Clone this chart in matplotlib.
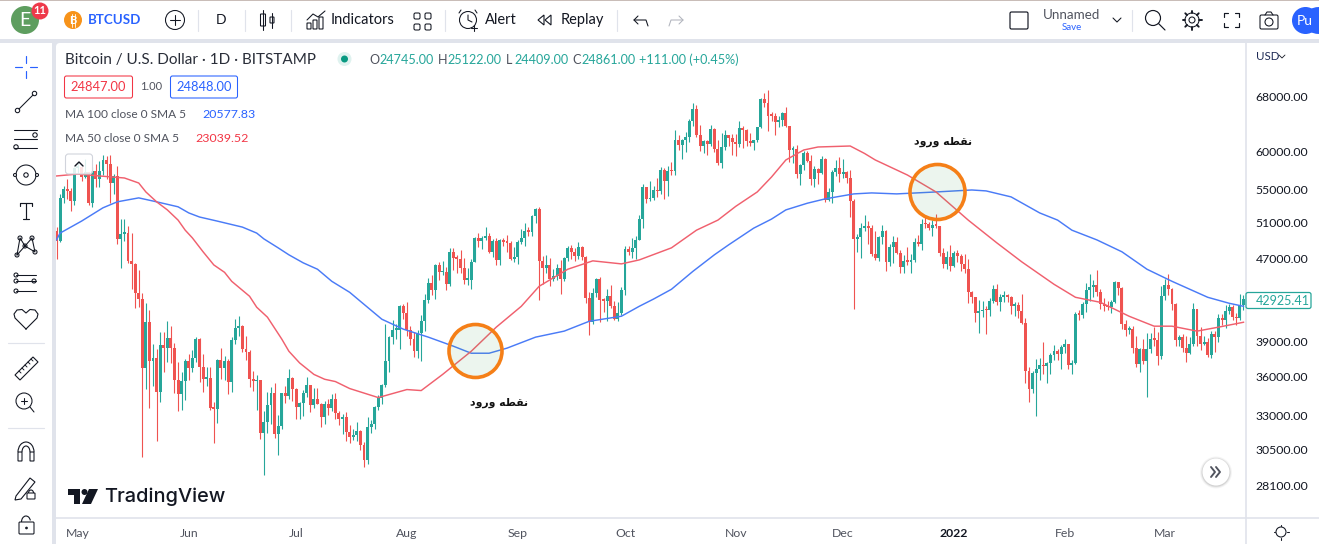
import matplotlib
matplotlib.use("Agg")
import matplotlib.pyplot as plt
from matplotlib.patches import Circle, Rectangle, FancyBboxPatch, Polygon, Arc
import math

plt.rcParams['font.family'] = ['Lato', 'DejaVu Sans']

# one candle per day, 25 Apr 2021 .. 23 Mar 2022
first_open = 50100
closes = [
    49004, 54021, 55033, 54824, 53555, 57750,
    # May
    57828, 56631, 57200, 53333, 57424, 56396, 57356, 58803, 58232, 55859, 56704, 49150, 49716, 49880, 46760, 46456,
    43538, 42909, 36700, 40782, 37304, 37536, 34770, 38705, 38402, 39295, 38436, 35697, 34616, 35678, 37332,
    # Jun
    36684, 37575, 39188, 36825, 35791, 35904, 33560, 33472, 37345, 36702, 37334, 35552, 39097, 40218, 40406,
    38347, 38053, 35787, 35615, 35698, 31676, 32505, 33723, 34662, 31637, 32186, 34649, 34434, 35867, 35040,
    # Jul
    33572, 33897, 34668, 35287, 33746, 34235, 33855, 32877, 33798, 33520, 34240, 33155, 32702, 32822, 31780, 31421,
    31533, 31796, 30817, 29807, 32110, 32313, 33581, 34292, 35350, 37337, 39406, 39995, 40008, 42235, 41626,
    # Aug
    39974, 39201, 38152, 39747, 40869, 42816, 44555, 43798, 46365, 45585, 45593, 44428, 47793, 47096, 47047, 46004,
    44801, 44802, 46717, 49339, 48905, 49321, 49546, 47706, 48960, 46942, 49058, 48897, 48767, 46970, 47166,
    # Sep
    48847, 49327, 50025, 49944, 51753, 52633, 46811, 46091, 46391, 44883, 45201, 46063, 44963, 47092, 48176,
    47783, 47267, 48278, 47260, 43012, 40734, 43543, 44895, 42840, 42716, 43208, 42235, 41034, 41564, 43790,
    # Oct
    48116, 47711, 48199, 49112, 51514, 55361, 53805, 53967, 54968, 54771, 57484, 56041, 57401, 57321, 61593, 60892,
    61553, 62026, 64261, 65992, 62210, 60692, 61393, 60930, 63039, 60363, 58482, 60622, 62227, 61888, 61319,
    # Nov
    61004, 63226, 62970, 61452, 61125, 61527, 63326, 67566, 66971, 64995, 64949, 64155, 64469, 65466, 63557,
    60161, 60368, 56942, 58119, 59697, 58730, 56289, 57569, 57159, 58960, 53726, 54721, 57274, 57776, 56950,
    # Dec
    57184, 56480, 53601, 49152, 49396, 50441, 50588, 50471, 47545, 47140, 49389, 50053, 46702, 48343, 48864, 47632,
    46131, 46834, 46681, 46914, 48889, 48588, 50838, 50820, 50429, 50809, 50640, 47588, 46444, 47178, 46306,
    # Jan
    47686, 47345, 46458, 45897, 43569, 43160, 41557, 41733, 41911, 41821, 42735, 43949, 42591, 43099, 43177, 43113,
    42250, 42375, 41744, 40680, 36457, 35030, 36276, 36654, 36954, 36852, 37138, 37784, 38138, 37917, 38483,
    # Feb
    38743, 36952, 37154, 41500, 41441, 42406, 43854, 44096, 44338, 43565, 42407, 42244, 42197, 42586,
    44575, 43961, 40538, 40030, 40122, 38431, 37075, 38286, 37296, 38332, 39214, 39105, 37709, 43193,
    # Mar
    44354, 43925, 42458, 39138, 39400, 38420, 37988, 38730, 41982, 39437, 38794, 38904, 37849, 39666, 39338, 41143,
    40951, 41801, 42191, 41247, 41077, 42359, 42925,
]
highs = [
    50500, 54400, 55500, 56400, 55200, 57950,
    58450, 57950, 58980, 57200, 57950, 58350, 58650, 59500, 59300, 59500, 57000, 58000, 51400, 51500, 50600, 49800,
    46600, 45800, 43500, 42500, 41900, 38800, 38300, 39800, 39800, 40800, 40400, 38850, 37200, 36400, 37500,
    37900, 38200, 39400, 39250, 37900, 36800, 36800, 34000, 37500, 38400, 37700, 37450, 39400, 41000, 41300,
    40500, 39500, 38200, 36450, 36100, 35750, 33300, 34800, 35200, 35500, 33000, 34700, 35250, 36650, 36000,
    35050, 33950, 34950, 35950, 35300, 35100, 35050, 33900, 34100, 34250, 34600, 34650, 33300, 33100, 33200, 32250,
    31950, 32450, 31900, 31050, 32850, 32600, 33650, 34500, 35400, 40550, 39500, 40900, 40600, 42300, 42400,
    42600, 40400, 39800, 40000, 41400, 43400, 45000, 45300, 46450, 46700, 46800, 46200, 48150, 48200, 47400, 48000,
    47150, 46000, 47000, 49400, 49800, 49500, 50500, 49900, 49200, 49300, 49150, 49300, 49600, 48900, 48250,
    49100, 50350, 51000, 50550, 51900, 52800, 52900, 47300, 47400, 47100, 45950, 46450, 46850, 47250, 48450,
    48500, 48150, 48800, 48350, 47350, 43600, 44000, 45000, 45150, 43000, 43900, 44350, 42750, 42650, 44100,
    48450, 48350, 49250, 49500, 51900, 55750, 55350, 56100, 55500, 56500, 57850, 57700, 58000, 58500, 62900, 62300,
    61700, 62700, 64500, 67000, 66650, 63700, 61500, 61500, 63700, 63300, 61500, 62500, 62900, 62300, 62450,
    62450, 64300, 63500, 63100, 62600, 61600, 63300, 67700, 68500, 69000, 65600, 65450, 65000, 65550, 66300,
    63500, 60700, 60900, 58300, 60000, 60000, 59500, 58000, 57800, 59350, 59100, 55250, 57450, 58850, 59200,
    59000, 57400, 57550, 53900, 49750, 50950, 51950, 51200, 50800, 50100, 49500, 50800, 50200, 48650, 49500, 49450,
    48000, 47400, 48300, 47500, 49300, 49600, 51400, 51850, 51150, 51300, 52050, 50700, 48150, 47900, 48500,
    47900, 47950, 47550, 47500, 47050, 43700, 43150, 42800, 42700, 42250, 43050, 44300, 44450, 43400, 43750, 43450,
    43200, 42650, 42600, 43400, 41100, 36800, 36500, 37500, 37550, 38900, 37200, 38000, 38700, 38350, 38700,
    39200, 38800, 37400, 41700, 41900, 42600, 44500, 45450, 44800, 45800, 43900, 43000, 42700, 42850,
    44700, 44550, 44150, 40900, 40400, 40400, 39450, 38400, 39200, 39700, 39700, 40300, 39800, 44200,
    44900, 45400, 44050, 42500, 39600, 39650, 39500, 39400, 42550, 42000, 40250, 39500, 39300, 39900, 39900, 41500,
    41450, 42300, 42400, 42300, 41550, 43400, 43300,
]
lows = [
    47000, 48800, 53300, 53900, 52400, 53100,
    57050, 56050, 56500, 53100, 52900, 55300, 55300, 56900, 56300, 53400, 54500, 48600, 46000, 48900, 46600, 43900,
    42100, 42200, 30000, 35000, 33500, 35250, 31100, 34000, 36400, 37200, 37150, 34700, 33300, 33400, 34150,
    35700, 36400, 37200, 35600, 34800, 35250, 33400, 31000, 32400, 35800, 35700, 34600, 34800, 38800, 39500,
    38100, 37400, 35150, 34850, 33350, 31250, 28800, 31700, 32350, 31300, 30150, 32000, 33900, 34250, 34100,
    32700, 32700, 32900, 34400, 33200, 33500, 33800, 32100, 32300, 33000, 33300, 32700, 32250, 31600, 31100, 31000,
    31200, 31100, 30500, 29300, 29500, 31700, 32000, 33350, 33850, 35200, 36400, 38800, 39200, 38350, 41050,
    39500, 38700, 37600, 37550, 37300, 39900, 42500, 43300, 42900, 44800, 45350, 43800, 44250, 45850, 45500, 45500,
    44400, 44300, 43950, 46650, 48300, 48050, 49050, 47600, 47200, 46350, 46400, 48450, 47800, 46850, 46700,
    46500, 48600, 48400, 49500, 49500, 50950, 42800, 44400, 45500, 44200, 44750, 44800, 43450, 44700, 46750,
    47050, 46800, 47050, 46850, 42500, 39600, 40550, 43100, 40750, 41700, 40800, 42100, 40900, 40800, 41400,
    43300, 47450, 47150, 46950, 49050, 50400, 53400, 53650, 53700, 54100, 54450, 53900, 54200, 56850, 56850, 60200,
    58900, 59850, 61300, 63500, 62000, 60000, 59700, 59500, 60700, 59900, 58100, 57800, 60200, 60700, 59500,
    59400, 60600, 60400, 60700, 60750, 60100, 61300, 63300, 66300, 62800, 64200, 62300, 63400, 63600, 63400,
    58600, 58400, 56500, 55600, 57500, 58500, 55600, 55300, 55750, 57000, 53500, 53600, 53300, 56700, 55900,
    56450, 55850, 51700, 42000, 47700, 47100, 50050, 48650, 47300, 46900, 46800, 48650, 45700, 46300, 46550, 47550,
    45500, 45550, 46400, 45550, 46650, 48450, 47950, 50450, 50200, 49500, 50450, 47350, 46100, 45950, 45700,
    46200, 46700, 45700, 45550, 42500, 42500, 40700, 39700, 41250, 39650, 41300, 42500, 42300, 41800, 42600, 42650,
    41500, 41300, 41100, 40600, 35500, 34000, 34650, 32900, 35700, 36250, 35500, 36200, 37350, 37400, 36650,
    38000, 36600, 36250, 37050, 40900, 41150, 41700, 42700, 43150, 43200, 42000, 41800, 41900, 41600,
    42500, 43350, 40100, 39500, 39650, 38000, 36800, 36400, 37050, 34350, 38000, 38600, 37000, 37500,
    42850, 43300, 41850, 38600, 38600, 38100, 37200, 37900, 38600, 38600, 38250, 38700, 37600, 37550, 38100, 38900,
    40500, 40150, 41500, 40950, 40500, 40900, 41900,
]

# moving averages (candle index, price)
ma100_days = [0, 1, 7, 13, 17, 23, 28, 34, 37, 40, 45, 52, 56, 58, 62, 65, 69, 73, 77, 82, 85, 91, 97, 104, 111, 116,
              121, 126, 134, 142, 149, 158, 163, 167, 172, 178, 184, 188, 195, 200, 204, 210, 215, 223, 228, 235, 246,
              256, 260, 267, 275, 280, 284, 291, 298, 305, 312, 322, 328, 332]
ma100 = [49075, 49840, 51210, 52780, 53500, 53980, 53500, 52900, 52170, 51690, 51210, 50520, 49840, 49190, 48200, 47445,
         46590, 45920, 44680, 43580, 42700, 41000, 40090, 39370, 38570, 37960, 37960, 38400, 39370, 39910, 40810, 41280,
         42220, 42920, 43880, 45700, 47445, 48530, 50400, 51450, 52530, 53330, 53860, 54470, 54590, 54470, 54710, 54955,
         54840, 54100, 52170, 51330, 50170, 49075, 47770, 45920, 44680, 43090, 42510, 42220]
ma50_days = [0, 6, 12, 19, 23, 25, 28, 31, 34, 36, 38, 41, 44, 47, 49, 54, 56, 59, 63, 65, 68, 72, 75, 78, 82, 90, 98,
             102, 108, 116, 123, 130, 135, 143, 150, 158, 163, 172, 179, 185, 190, 196, 200, 204, 209, 213, 222, 226,
             229, 238, 246, 255, 263, 270, 279, 285, 292, 300, 307, 312, 319, 325, 332]
ma50 = [56730, 56980, 56730, 56470, 55830, 54710, 53500, 52530, 51330, 50170, 49300, 47770, 46370, 45600, 44680, 43190,
        42130, 41190, 39200, 38130, 37134, 36180, 35785, 35600, 35040, 34330, 34960, 34880, 36180, 38130, 40270, 42220,
        44180, 45920, 46800, 46480, 46900, 48200, 50170, 51330, 52960, 54710, 56600, 58825, 60170, 60580, 60715, 59700,
        58825, 56850, 54710, 51330, 48750, 46690, 44380, 43090, 42600, 41280, 40360, 40360, 39910, 40270, 40720]

month_days = [6, 37, 67, 98, 129, 159, 190, 220, 251, 282, 310]
month_labels = ['May', 'Jun', 'Jul', 'Aug', 'Sep', 'Oct', 'Nov', 'Dec', '2022', 'Feb', 'Mar']
price_ticks = [68000, 60000, 55000, 51000, 47000, 39000, 36000, 33000, 30500, 28100]
last_price = 42925.41

GREEN = '#26A69A'
RED = '#EF5350'
BLUE = '#2962FF'
INK = '#131722'
GREY = '#E0E3EB'
W, H = 1319, 544

fig = plt.figure(figsize=(W / 100, H / 100), dpi=100, facecolor=GREY)


def full_axes(z):
    a = fig.add_axes([0, 0, 1, 1], zorder=z)
    a.set_xlim(0, W)
    a.set_ylim(H, 0)
    a.axis('off')
    a.patch.set_alpha(0)
    return a


bg = full_axes(0)
ui = full_axes(2)

# panels behind the chart
bg.add_patch(Rectangle((0, 1), W, 38, fc='white', ec='none'))
bg.add_patch(Rectangle((0, 0), W, 1, fc='#C9BDB8', ec='none'))
bg.add_patch(Rectangle((0, 43), 52, H - 43, fc='white', ec='none'))
bg.add_patch(FancyBboxPatch((60, 47), W, H, boxstyle='round,pad=4,rounding_size=4', fc='white', ec='none'))

# chart
ax = fig.add_axes([56 / W, (H - 518) / H, (1246 - 56) / W, (518 - 43) / H], zorder=1)
ax.patch.set_alpha(0)
ax.set_yscale('log')
ax.set_xlim(-0.14, 332.7)
ax.set_ylim(26130, 76680)

opens = [first_open] + closes[:-1]
days = list(range(len(closes)))
colors = [GREEN if c >= o else RED for o, c in zip(opens, closes)]
ax.vlines(days, lows, highs, colors=colors, lw=0.8, zorder=2)
for d, o, c, col in zip(days, opens, closes, colors):
    ax.bar(d, max(abs(c - o), c * 0.004), bottom=min(o, c), width=0.82, color=col, lw=0, zorder=3)

ax.plot(ma100_days, ma100, color='#4A7BF7', lw=1.05, zorder=4, solid_joinstyle='round')
ax.plot(ma50_days, ma50, color='#F0606E', lw=1.05, zorder=4, solid_joinstyle='round')

ax.yaxis.tick_right()
ax.minorticks_off()
ax.set_yticks(price_ticks)
ax.set_yticklabels(['%.2f' % p for p in price_ticks], fontsize=8.8, color=INK)
ax.set_xticks(month_days)
ax.set_xticklabels(month_labels, fontsize=8.8, color='#50535E')
ax.get_xticklabels()[8].set_fontweight('bold')
ax.get_xticklabels()[8].set_color(INK)
ax.tick_params(axis='both', which='both', length=0)
ax.tick_params(axis='y', pad=7)
ax.tick_params(axis='x', pad=7.5)
ax.minorticks_off()
for s in ['top', 'left']:
    ax.spines[s].set_visible(False)
for s in ['right', 'bottom']:
    ax.spines[s].set_color(GREY)
    ax.spines[s].set_linewidth(1.2)


def txt(x, y, s, size=10, color=INK, ha='left', **kw):
    return ui.text(x, y, s, fontsize=size, color=color, ha=ha, va='center', **kw)


def line(xs, ys, color=INK, lw=1.0):
    ui.plot(xs, ys, color=color, lw=lw * 0.85, solid_capstyle='round')


def ring(x, y, r, color=INK, lw=1.0, fc='none'):
    ui.add_patch(Circle((x, y), r, fc=fc, ec=color, lw=lw * 0.85))


def box(x, y, w, h, color=INK, lw=1.0, fc='none', round_=2):
    ui.add_patch(FancyBboxPatch((x, y), w, h, boxstyle='round,pad=0,rounding_size=%s' % round_,
                                fc=fc, ec=color, lw=lw * 0.85))


# axis bits outside the plot area
line([1246, 1246], [518, 544], GREY, 1.4)
line([1246, 1319], [518, 518], GREY, 1.4)
txt(1256, 56, 'USD', 8.3, '#1E2A55')
line([1279, 1282, 1285], [55, 58, 55], INK, 0.7)

# sun / theme icon
ring(1281, 532, 5, INK, 0.9)
for dx, dy in [(0, -7.5), (0, 7.5), (-7.5, 0), (7.5, 0)]:
    line([1281 + dx * 0.8, 1281 + dx], [532 + dy * 0.8, 532 + dy], INK, 0.9)

# top toolbar
ring(25, 20, 14, 'none', 0, '#5E9E5F')
txt(25, 21, 'E', 14, 'white', 'center')
ring(40, 11, 8.5, 'none', 0, '#EE3A4A')
txt(40, 11, '11', 8, 'white', 'center', fontweight='bold')
ring(73, 20, 9, 'none', 0, '#F7931A')
# the bitcoin sign is in no installed font: a B with two strokes through it
txt(73, 20, 'B', 8, 'white', 'center', fontweight='bold')
line([72, 72], [13.5, 26.5], 'white', 0.7)
line([74.5, 74.5], [13.5, 26.5], 'white', 0.7)
txt(88, 20, 'BTCUSD', 9.6, BLUE, fontweight='bold')
ring(175, 20, 9.5, INK, 0.9)
line([170, 180], [20, 20], INK, 0.9)
line([175, 175], [15, 25], INK, 0.9)
for sx in [198, 245, 291, 445, 617, 1132]:
    line([sx, sx], [10, 31], GREY, 1.0)
txt(221, 20, 'D', 10, INK, 'center')
# candle icon
line([263, 263], [10, 30], INK, 0.9)
box(260.5, 14, 5, 12, INK, 0.9, 'white', 0.5)
line([272, 272], [13, 28], INK, 0.9)
box(270, 17, 4, 6, INK, 0.9, 'white', 0.5)
# indicators icon
line([307, 313, 318, 325], [20, 14, 17, 11], INK, 0.9)
box(307, 23, 4, 6, INK, 0.9, 'none', 0.3)
box(313, 20, 4, 9, INK, 0.9, 'none', 0.3)
box(319, 17, 4, 12, INK, 0.9, 'none', 0.3)
txt(331, 20, 'Indicators', 10.5, INK)
for gx in [414, 425]:
    for gy in [13, 24]:
        box(gx, gy, 6, 6, INK, 0.9, 'none', 1.5)
# alert
ring(468, 20, 8.5, INK, 0.9)
line([468, 468, 472], [15, 20, 22], INK, 0.9)
line([461, 459], [10, 13], INK, 0.9)
line([475, 477], [10, 13], INK, 0.9)
line([474, 474], [25, 31], INK, 0.9)
line([471, 477], [28, 28], INK, 0.9)
txt(485, 20, 'Alert', 10.5, INK)
# replay
ui.add_patch(Polygon([[544, 15], [538, 20], [544, 25]], fc='none', ec=INK, lw=0.8))
ui.add_patch(Polygon([[551, 15], [545, 20], [551, 25]], fc='none', ec=INK, lw=0.8))
txt(561, 20, 'Replay', 10.5, INK)
# undo / redo
line([634, 646, 648], [20, 20, 26], INK, 0.9)
line([638, 634, 638], [16, 20, 24], INK, 0.9)
line([683, 671, 669], [20, 20, 26], '#B2B5BE', 0.9)
line([679, 683, 679], [16, 20, 24], '#B2B5BE', 0.9)
# right side of toolbar
box(1010, 12, 18, 17, INK, 1.0, 'none', 1.5)
txt(1072, 15, 'Unnamed', 9.6, '#50535E', 'center')
txt(1072, 28, 'Save', 7, BLUE, 'center')
line([1113, 1117, 1121], [18, 22, 18], INK, 0.9)
ring(1153, 18, 7.5, INK, 1.0)
line([1158.5, 1165], [23.5, 30], INK, 1.0)
# gear
ring(1192, 20, 3, INK, 0.9)
ring(1192, 20, 7, INK, 0.9)
for k in range(8):
    a = k * math.pi / 4
    line([1192 + 7 * math.cos(a), 1192 + 9.5 * math.cos(a)], [20 + 7 * math.sin(a), 20 + 9.5 * math.sin(a)], INK, 1.6)
for cx, cy, dx, dy in [(1224, 13, 1, 1), (1239, 13, -1, 1), (1224, 27, 1, -1), (1239, 27, -1, -1)]:
    line([cx + 4 * dx, cx, cx], [cy, cy, cy + 4 * dy], INK, 1.0)
box(1260, 15, 18, 14, INK, 0.9, 'none', 1.5)
ring(1269, 22, 4, INK, 0.9)
line([1265, 1267, 1271, 1273], [15, 12, 12, 15], INK, 0.9)
ui.add_patch(FancyBboxPatch((1306, 7), 40, 27, boxstyle='round,pad=0,rounding_size=13', fc=BLUE, ec=BLUE, lw=0,
                            clip_on=True))
ring(1305.5, 20.5, 13.5, 'none', 0, BLUE)
txt(1305, 21, 'Pu', 10, 'white', 'center')

# left toolbar
line([26, 26], [56, 63], BLUE, 1.0)
line([26, 26], [71, 78], BLUE, 1.0)
line([15, 22], [67, 67], BLUE, 1.0)
line([30, 37], [67, 67], BLUE, 1.0)
line([19, 33], [109, 95], INK, 0.9)
ring(17.5, 110.5, 2.2, INK, 0.9, 'white')
ring(34.5, 93.5, 2.2, INK, 0.9, 'white')
for fy in [130, 139, 148]:
    line([14, 37], [fy, fy], INK, 0.9)
ring(35, 135, 2.2, INK, 0.9, 'white')
ring(16, 147, 2.2, INK, 0.9, 'white')
ring(26, 175, 10, INK, 0.9)
ring(26, 175, 2.2, INK, 0.9)
ring(37, 175, 1.5, INK, 0.9, 'white')
ring(15, 175, 1.5, INK, 0.9, 'white')
line([26, 26], [203, 219], INK, 1.0)
line([20, 20, 32, 32], [206, 203, 203, 206], INK, 1.0)
line([23, 29], [219, 219], INK, 1.0)
line([17, 20, 25, 32, 35, 25, 17], [255, 238, 246, 238, 252, 246, 255], INK, 0.9)
for px, py in [(17, 255), (20, 238), (25, 246), (32, 238), (35, 252)]:
    ring(px, py, 2, INK, 0.9, 'white')
line([16, 36], [275, 275], INK, 0.9)
line([16, 36], [291, 291], INK, 0.9)
line([16, 36], [281, 281], INK, 0.9)
for px, py in [(16, 275), (16, 281), (34, 281), (16, 291)]:
    ring(px, py, 2, INK, 0.9, 'white')
ui.plot([26, 15, 14, 17, 22, 26, 30, 35, 38, 37, 26], [329, 318, 314, 310, 309.5, 313, 309.5, 310, 314, 318, 329],
        color=INK, lw=0.8)
for sy in [343, 428]:
    line([8, 44], [sy, sy], GREY, 1.0)
ui.add_patch(Polygon([[15, 375], [33, 357], [38, 362], [20, 380]], fc='none', ec=INK, lw=0.8))
for k in range(5):
    line([19 + 3 * k, 21 + 3 * k], [371 - 3 * k, 373 - 3 * k], INK, 0.8)
ring(24, 401, 8, INK, 0.9)
line([30, 34], [407, 412], INK, 0.9)
line([21, 27], [401, 401], INK, 0.9)
line([24, 24], [398, 404], INK, 0.9)
ui.add_patch(Arc((26, 452), 16, 20, theta1=180, theta2=360, ec=INK, lw=0.8))
ui.add_patch(Arc((26, 452), 8, 12, theta1=180, theta2=360, ec=INK, lw=0.8))
box(18, 452, 4, 9, INK, 0.9, 'none', 0.3)
box(30, 452, 4, 9, INK, 0.9, 'none', 0.3)
ui.add_patch(Polygon([[16, 496], [30, 478], [35, 482], [21, 499], [15, 500]], fc='none', ec=INK, lw=0.8))
box(27, 493, 8, 6, INK, 0.9, 'white', 0.5)
ui.add_patch(Arc((31, 493), 5, 6, theta1=180, theta2=360, ec=INK, lw=0.8))
box(19, 522, 15, 12, INK, 0.9, 'none', 1)
ui.add_patch(Arc((26, 522), 9, 12, theta1=180, theta2=340, ec=INK, lw=0.8))
ring(26.5, 528, 0.8, INK, 0.9, INK)

# legend
txt(65, 60, 'Bitcoin / U.S. Dollar \u00b7 1D \u00b7 BITSTAMP', 11, '#2a2e39')
ring(344.5, 59, 7, 'none', 0, '#DFF2EF')
ring(344.5, 59, 3.5, 'none', 0, '#089981')
for lx, vx, lab, val in [(369, 379, 'O', '24745.00'), (438, 447, 'H', '25122.00'),
                         (506, 514, 'L', '24409.00'), (572, 581, 'C', '24861.00')]:
    txt(lx, 60, lab, 9.1, '#50535E')
    txt(vx, 60, val, 9.1, GREEN)
txt(639, 60, '+111.00 (+0.45%)', 9.1, GREEN)
box(64.5, 76, 68, 22, '#F23645', 0.9, 'white', 2)
txt(98.5, 87, '24847.00', 9.3, '#F23645', 'center')
txt(151, 87, '1.00', 8, '#50535E', 'center')
box(170.5, 76, 67, 22, BLUE, 0.9, 'white', 2)
txt(204, 87, '24848.00', 9.3, BLUE, 'center')
txt(65, 115, 'MA 100 close 0 SMA 5', 8.6, '#50535E')
txt(202, 115, '20577.83', 8.9, BLUE)
txt(65, 139, 'MA 50 close 0 SMA 5', 8.6, '#50535E')
txt(195, 139, '23039.52', 8.9, '#F23645')
ui.add_patch(FancyBboxPatch((65.5, 154), 27, 20, boxstyle='round,pad=0,rounding_size=3', fc=(1, 1, 1, 0.85),
                            ec='#D1D4DC', lw=0.8))
line([75, 79, 83], [166, 162, 166], INK, 1.2)

# entry circles + labels
entry_label = '\ufea9\ufeed\ufead\ufeed \ufeea\ufec4\ufed8\ufee7'  # glyphs in display order
for cx, cy, r, tx, ty in [(475.5, 351, 26.5, 499, 403), (937.5, 192, 27.5, 943, 142)]:
    ui.add_patch(Circle((cx, cy), r, fc=(0.30, 0.65, 0.35, 0.10), ec='none'))
    ui.add_patch(Circle((cx, cy), r, fc='none', ec='#F57F17', lw=2.6))
    txt(tx, ty, entry_label, 7.8, '#111111', 'center', family=['DejaVu Sans'], fontweight='bold')

# last price tag
ui.add_patch(FancyBboxPatch((1246, 292.5), 65, 16, boxstyle='round,pad=0,rounding_size=2', fc='white', ec=GREEN, lw=0.9))
txt(1283, 301, '%.2f' % last_price, 9, GREEN, 'center')

# scroll button
for rr, al in [(16, 0.04), (15, 0.06), (14.2, 0.08)]:
    ui.add_patch(Circle((1216, 472.5), rr, fc=(0, 0, 0, al), ec='none'))
ring(1216, 472, 13.5, 'none', 0, 'white')
line([1211, 1215, 1211], [467, 472, 477], '#50535E', 1.6)
line([1216, 1220, 1216], [467, 472, 477], '#50535E', 1.6)

# TradingView logo
ui.add_patch(Polygon([[68, 489], [80, 489], [80, 504], [74, 504], [74, 495], [68, 495]], fc=INK, ec='none'))
ring(84.5, 492, 3, 'none', 0, INK)
ui.add_patch(Polygon([[89, 489], [98, 489], [91, 504], [82, 504]], fc=INK, ec='none'))
txt(104, 497, 'TradingView', 14.4, INK, family=['Inter'], fontweight='medium')

fig.savefig('out.png', dpi=100, facecolor=fig.get_facecolor())
